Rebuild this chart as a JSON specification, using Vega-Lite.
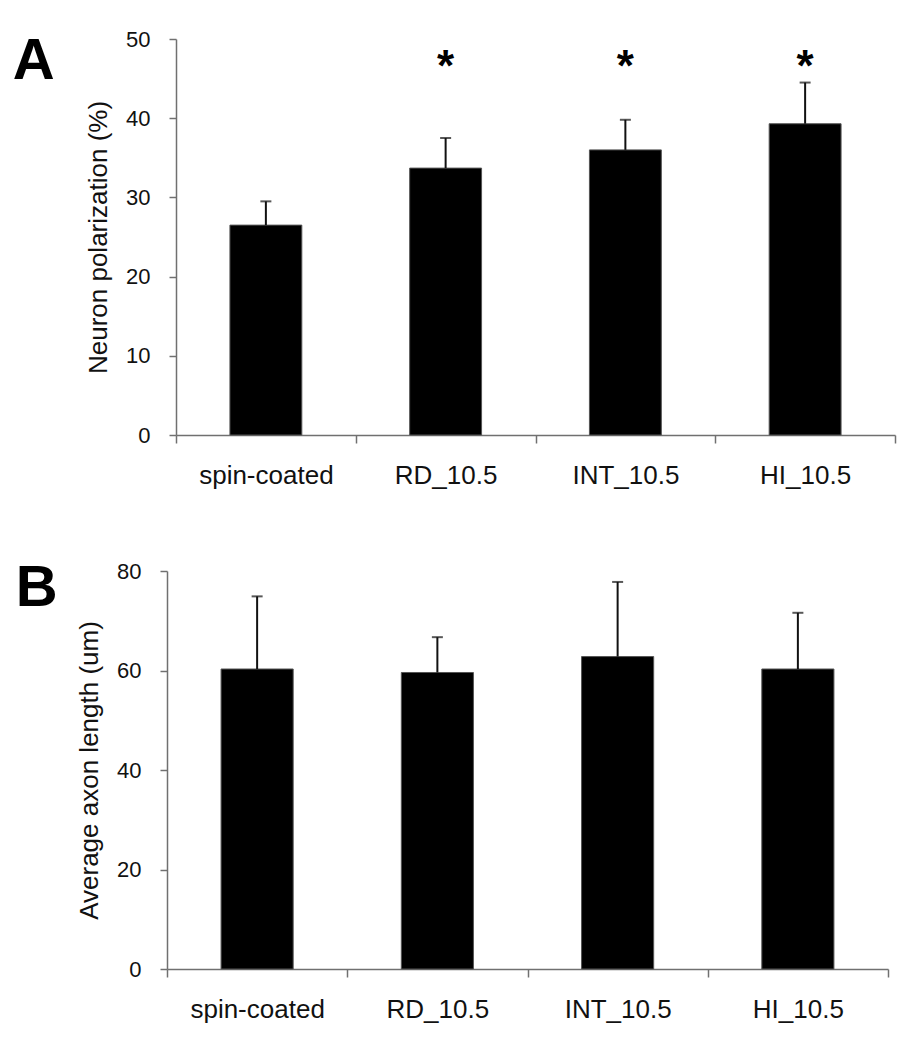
{
  "$schema": "https://vega.github.io/schema/vega-lite/v6.json",
  "background": "white",
  "padding": {"left": 12, "top": 28, "right": 5, "bottom": 5},
  "config": {
    "view": {"stroke": null},
    "font": "Liberation Sans",
    "axis": {
      "domainColor": "#707070",
      "domainWidth": 1.5,
      "tickColor": "#707070",
      "tickWidth": 1.5,
      "tickSize": 7,
      "labelColor": "#111111",
      "titleColor": "#111111",
      "grid": false
    }
  },
  "spacing": 72,
  "vconcat": [
    {
      "width": 728,
      "height": 396,
      "title": {"text": "A", "anchor": "end", "frame": "group", "orient": "left", "angle": 0, "align": "right", "fontSize": 58, "fontWeight": "bold", "color": "black", "baseline": "top", "offset": -11, "dy": -6},
      "data": {"values": [
        {"group": "spin-coated", "mean": 26.5, "upper": 29.5, "sig": ""},
        {"group": "RD_10.5", "mean": 33.7, "upper": 37.5, "sig": "*"},
        {"group": "INT_10.5", "mean": 36.0, "upper": 39.8, "sig": "*"},
        {"group": "HI_10.5", "mean": 39.3, "upper": 44.5, "sig": "*"}
      ]},
      "encoding": {
        "x": {"field": "group", "type": "nominal", "sort": null,
              "scale": {"paddingInner": 0, "paddingOuter": 0, "range": [9, 728]},
              "axis": {"title": null, "labelAngle": 0, "labelFontSize": 26, "labelPadding": 19, "tickBand": "extent", "tickSize": 8}}
      },
      "layer": [
        {
          "mark": {"type": "bar", "color": "black", "stroke": "#555555", "strokeWidth": 1, "width": {"band": 0.4}},
          "encoding": {
            "y": {"field": "mean", "type": "quantitative",
                  "scale": {"domain": [0, 50], "nice": false},
                  "axis": {"offset": -9, "values": [0, 10, 20, 30, 40, 50], "title": "Neuron polarization (%)", "labelFontSize": 22, "labelPadding": 19, "titleFontSize": 26, "titleFontWeight": "normal", "titlePadding": 14}}
          }
        },
        {
          "mark": {"type": "rule", "color": "#111111", "strokeWidth": 2},
          "encoding": {
            "y": {"field": "mean", "type": "quantitative"},
            "y2": {"field": "upper"}
          }
        },
        {
          "mark": {"type": "tick", "orient": "horizontal", "color": "#111111", "size": 11, "thickness": 2},
          "encoding": {
            "y": {"field": "upper", "type": "quantitative"}
          }
        },
        {
          "mark": {"type": "text", "fontSize": 44, "fontWeight": "bold", "baseline": "alphabetic", "color": "black"},
          "encoding": {
            "y": {"datum": 44.7, "type": "quantitative"},
            "text": {"field": "sig"}
          }
        }
      ]
    },
    {
      "width": 721,
      "height": 398,
      "title": {"text": "B", "anchor": "end", "frame": "group", "orient": "left", "angle": 0, "align": "right", "fontSize": 58, "fontWeight": "bold", "color": "black", "baseline": "top", "offset": -23, "dy": -11},
      "data": {"values": [
        {"group": "spin-coated", "mean": 60.3, "upper": 74.9},
        {"group": "RD_10.5", "mean": 59.6, "upper": 66.7},
        {"group": "INT_10.5", "mean": 62.8, "upper": 77.8},
        {"group": "HI_10.5", "mean": 60.3, "upper": 71.6}
      ]},
      "encoding": {
        "x": {"field": "group", "type": "nominal", "sort": null,
              "scale": {"paddingInner": 0, "paddingOuter": 0},
              "axis": {"title": null, "labelAngle": 0, "labelFontSize": 26, "labelPadding": 19, "tickBand": "extent", "tickSize": 8}}
      },
      "layer": [
        {
          "mark": {"type": "bar", "color": "black", "stroke": "#555555", "strokeWidth": 1, "width": {"band": 0.4}},
          "encoding": {
            "y": {"field": "mean", "type": "quantitative",
                  "scale": {"domain": [0, 80], "nice": false},
                  "axis": {"values": [0, 20, 40, 60, 80], "title": "Average axon length (um)", "labelFontSize": 22, "labelPadding": 19, "titleFontSize": 26, "titleFontWeight": "normal", "titlePadding": 14}}
          }
        },
        {
          "mark": {"type": "rule", "color": "#111111", "strokeWidth": 2},
          "encoding": {
            "y": {"field": "mean", "type": "quantitative"},
            "y2": {"field": "upper"}
          }
        },
        {
          "mark": {"type": "tick", "orient": "horizontal", "color": "#111111", "size": 11, "thickness": 2},
          "encoding": {
            "y": {"field": "upper", "type": "quantitative"}
          }
        }
      ]
    }
  ]
}
